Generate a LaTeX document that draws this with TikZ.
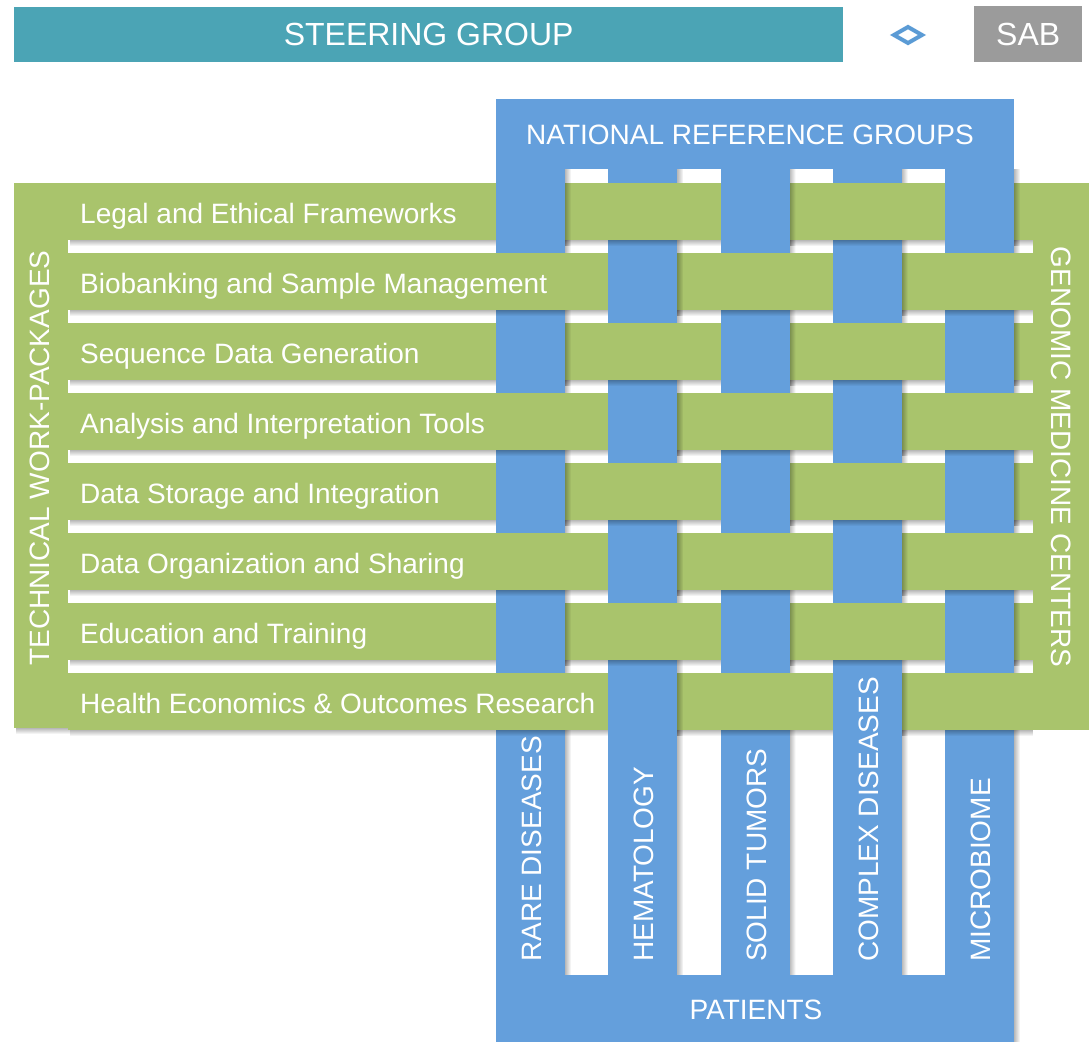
\documentclass[tikz,border=0pt]{standalone}
\usepackage{fontspec}
\setmainfont{Liberation Sans}
\usetikzlibrary{positioning,fadings}

\definecolor{wpgreen}{RGB}{169,196,108}
\definecolor{nrgblue}{RGB}{100,159,220}
\definecolor{sgteal}{RGB}{75,164,181}
\definecolor{sabgray}{RGB}{155,155,155}
\definecolor{linkblue}{RGB}{91,155,213}

\tikzset{
	bigtext/.style={text=white, font=\fontsize{32}{36}\selectfont},
	lbltext/.style={text=white, font=\fontsize{28}{32}\selectfont, inner sep=0pt},
	topbox/.style={anchor=north west, inner sep=0pt},
	shadowstrip/.style={fill=black, fill opacity=0.28},
}

\begin{document}
\begin{tikzpicture}[x=1pt, y=-1pt]
		\useasboundingbox (0,0) rectangle (1089,1042);
	
		\node[topbox, fill=sgteal, minimum width=829pt, minimum height=55pt, bigtext] (steer) at (14,7) {STEERING GROUP};
		\node[topbox, fill=sabgray, minimum width=108pt, minimum height=56pt, bigtext] (sab) at (974,6) {SAB};
		\draw[linkblue, line width=4pt] (908,27) -- (922,35) -- (908,43) -- (894,35) -- cycle;
	
		% side bars
		\fill[wpgreen] (14,183) rectangle (68,728);
		\fill[shadowstrip, path fading=south] (16,728) rectangle (70,734);
		\fill[wpgreen] (1033,183) rectangle (1089,730);
		\node[lbltext, rotate=90] (tech) at (40,458) {TECHNICAL WORK-PACKAGES};
		\node[lbltext, rotate=-90] (gmc) at (1061,457) {GENOMIC MEDICINE CENTERS};
	
		% national reference groups
		\fill[nrgblue] (496,99) rectangle (1014,169);
		\fill[nrgblue] (496,975) rectangle (1014,1042);
		\fill[shadowstrip, path fading=east] (1014,975) rectangle (1020,1042);
		\foreach \j in {1, 2, 3, 4, 5} {
			\fill[nrgblue] ({496+112.25*(\j-1)},169) rectangle ++(69,806);
			\fill[shadowstrip, path fading=east] ({565+112.25*(\j-1)},169) rectangle ++(6,806);
		}
		\node[lbltext] (nrgtop) at (750,135) {NATIONAL REFERENCE GROUPS};
		\node[lbltext] (patients) at (756,1010) {PATIENTS};
	
		% work-packages
		\foreach \i/\wp in {1/Legal and Ethical Frameworks, 2/Biobanking and Sample Management,
			3/Sequence Data Generation, 4/Analysis and Interpretation Tools,
			5/Data Storage and Integration, 6/Data Organization and Sharing,
			7/Education and Training, 8/Health Economics \& Outcomes Research} {
			\fill[wpgreen] (68,{183+70*(\i-1)}) rectangle ++(965,57);
			\fill[shadowstrip, path fading=south] (70,{240+70*(\i-1)}) rectangle ++(963,6);
			\node[lbltext, anchor=base west] (wp\i) at (80,{223+70*(\i-1)}) {\wp};
		}
	
		% weave: columns over rows
		\foreach \j in {1, 2, 3, 4, 5} {
			\foreach \i in {1, 2, 3, 4, 5, 6, 7, 8} {
				\pgfmathtruncatemacro{\odd}{mod(\i+\j,2)}
				\ifnum\odd=0
					\fill[nrgblue] ({496+112.25*(\j-1)},{183+70*(\i-1)}) rectangle ++(69,63);
					\fill[shadowstrip, path fading=east] ({565+112.25*(\j-1)},{183+70*(\i-1)}) rectangle ++(6,63);
				\fi
			}
		}
	
		\foreach \j/\nrg in {1/RARE DISEASES, 2/HEMATOLOGY, 3/SOLID TUMORS, 4/COMPLEX DISEASES, 5/MICROBIOME} {
			\node[lbltext, rotate=90, anchor=west] (nrg\j) at ({532+112.25*(\j-1)},962) {\nrg};
		}
	\end{tikzpicture}
\end{document}
